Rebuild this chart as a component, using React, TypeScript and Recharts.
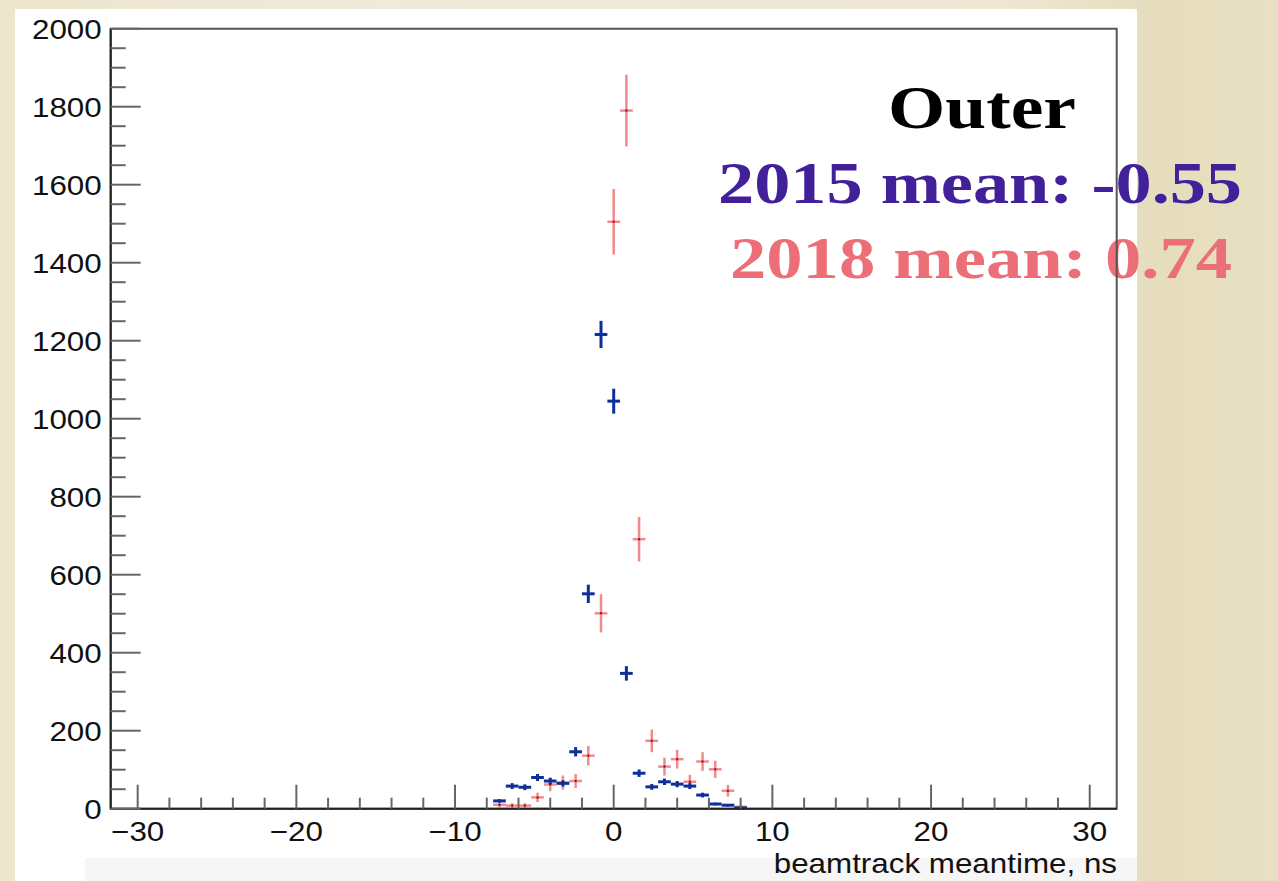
import { ComposedChart, ErrorBar, ReferenceArea, Scatter, XAxis, YAxis } from "recharts"

// histogram bins (ns) and contents
const binCenters = [-7.2, -6.4, -5.6, -4.8, -4.0, -3.2, -2.4, -1.6, -0.8, 0.0, 0.8, 1.6, 2.4, 3.2, 4.0, 4.8, 5.6, 6.4, 7.2, 8.0]
const counts2015 = [20, 58, 55, 80, 71, 65, 146, 551, 1216, 1045, 347, 91, 56, 69, 63, 58, 35, 12, 9, 2]
const errors2015 = [4.5, 7.6, 7.4, 9, 8.4, 8, 12, 23.5, 35, 32, 18.6, 9.5, 7.5, 8.3, 8, 7.6, 6, 3.5, 3, 1.4]
const counts2018 = [10, 8, 8, 29, 62, 67, 71, 136, 501, 1505, 1790, 691, 174, 108, 127, 69, 121, 101, 46, 5]
const errors2018 = [7, 6, 6, 12, 17, 18, 18, 25, 49, 84, 92, 57, 29, 23, 24, 18, 24, 22, 15, 5]
const binHalfWidth = 0.4

const xTickLabels = [-30, -20, -10, 0, 10, 20, 30]
const xMinorTicks = [-28, -26, -24, -22, -18, -16, -14, -12, -8, -6, -4, -2, 2, 4, 6, 8, 12, 14, 16, 18, 22, 24, 26, 28]
const yTickLabels = [0, 200, 400, 600, 800, 1000, 1200, 1400, 1600, 1800, 2000]
const yMinorTicks = [50, 100, 150, 250, 300, 350, 450, 500, 550, 650, 700, 750, 850, 900, 950, 1050, 1100, 1150, 1250, 1300, 1350, 1450, 1500, 1550, 1650, 1700, 1750, 1850, 1900, 1950]

const xDomain = [-31.7, 31.7]
const yDomain = [0, 2000]

const data2015 = binCenters.map((x, i) => ({ x, y: counts2015[i], ex: binHalfWidth, ey: errors2015[i] }))
const data2018 = binCenters.map((x, i) => ({ x, y: counts2018[i], ex: binHalfWidth, ey: errors2018[i] }))

const BLUE = "#0f2f98"
const RED = "#ee6266"
const labelFont = "'Liberation Sans', Arial, Helvetica, sans-serif"
const serif = "'Liberation Serif', 'Times New Roman', serif"

const fmt = (v: number) => String(v).replace("-", "\u2212")

function XTick(props: any) {
  const { x, y, payload } = props
  const major = xTickLabels.includes(payload.value)
  return (
    <g>
      <line x1={x} x2={x} y1={y} y2={y - (major ? 24 : 11)} stroke="#666" strokeWidth={2} />
      {major && (
        <text
          transform={`translate(${x},${y + 32}) scale(1.12,1)`}
          textAnchor="middle"
          fontFamily={labelFont}
          fontSize={28}
          fill="#111"
        >
          {fmt(payload.value)}
        </text>
      )}
    </g>
  )
}

function YTick(props: any) {
  const { x, y, payload } = props
  const major = yTickLabels.includes(payload.value)
  return (
    <g>
      <line x1={x} x2={x + (major ? 30 : 15)} y1={y} y2={y} stroke="#666" strokeWidth={2} />
      {major && (
        <text
          transform={`translate(${x - 9},${y + 10}) scale(1.12,1)`}
          textAnchor="end"
          fontFamily={labelFont}
          fontSize={28}
          fill="#111"
        >
          {payload.value}
        </text>
      )}
    </g>
  )
}

const noMarker = () => <g />
const redMarker = (p: any) => <circle cx={p.cx} cy={p.cy} r={1} fill="#5a1010" />

export default function App() {
  return (
    <div
      style={{
        position: "absolute",
        left: 0,
        top: 0,
        width: 1278,
        height: 881,
        overflow: "hidden",
        background: "linear-gradient(90deg, #ece6cd 0%, #efeadb 30%, #ede7d2 80%, #e5ddbd 90%, #e8e0c2 100%)",
      }}
    >
      {/* white slide panel */}
      <div style={{ position: "absolute", left: 15, top: 9, width: 1122, height: 872, background: "#fff" }} />
      <div style={{ position: "absolute", left: 85, top: 858, width: 1052, height: 23, background: "#f6f6f6" }} />

      <svg width={1278} height={881} style={{ position: "absolute", left: 0, top: 0 }}>
        <text x={982} y={128} textAnchor="middle" fontFamily={serif} fontWeight="bold" fontSize={62} fill="#000" textLength={188} lengthAdjust="spacingAndGlyphs">
          Outer
        </text>
        <text x={980} y={203} textAnchor="middle" fontFamily={serif} fontWeight="bold" fontSize={60} fill="#41209a" textLength={524} lengthAdjust="spacingAndGlyphs">
          2015 mean: -0.55
        </text>
        <text x={981} y={278} textAnchor="middle" fontFamily={serif} fontWeight="bold" fontSize={60} fill="#ec6e76" textLength={502} lengthAdjust="spacingAndGlyphs">
          2018 mean: 0.74
        </text>
        <text transform="translate(1117,873) scale(1.12,1)" textAnchor="end" fontFamily={labelFont} fontSize={28} fill="#111">
          beamtrack meantime, ns
        </text>
      </svg>

      <ComposedChart
        width={1278}
        height={881}
        margin={{ top: 28.7, right: 161.3, bottom: 32.3, left: 50.7 }}
      >
        <XAxis
          type="number"
          dataKey="x"
          domain={xDomain}
          allowDataOverflow
          ticks={[...xTickLabels, ...xMinorTicks]}
          interval={0}
          tick={<XTick />}
          tickLine={false}
          tickSize={0}
          tickMargin={0}
          height={40}
          axisLine={{ stroke: "#222", strokeWidth: 2 }}
        />
        <YAxis
          type="number"
          dataKey="y"
          domain={yDomain}
          allowDataOverflow
          ticks={[...yTickLabels, ...yMinorTicks]}
          interval={0}
          tick={<YTick />}
          tickLine={false}
          tickSize={0}
          tickMargin={0}
          width={60}
          axisLine={{ stroke: "#222", strokeWidth: 2 }}
        />
        <ReferenceArea x1={xDomain[0]} x2={xDomain[1]} y1={yDomain[0]} y2={yDomain[1]} fill="none" stroke="#555" strokeWidth={2} />
        <Scatter data={data2018} fill={RED} shape={redMarker} isAnimationActive={false}>
          <ErrorBar dataKey="ey" direction="y" width={0} stroke={RED} strokeOpacity={0.75} strokeWidth={2.5} isAnimationActive={false} />
          <ErrorBar dataKey="ex" direction="x" width={0} stroke={RED} strokeOpacity={0.75} strokeWidth={2.5} isAnimationActive={false} />
        </Scatter>
        <Scatter data={data2015} fill={BLUE} shape={noMarker} isAnimationActive={false}>
          <ErrorBar dataKey="ey" direction="y" width={0} stroke={BLUE} strokeWidth={3} isAnimationActive={false} />
          <ErrorBar dataKey="ex" direction="x" width={0} stroke={BLUE} strokeWidth={3} isAnimationActive={false} />
        </Scatter>
      </ComposedChart>
    </div>
  )
}
